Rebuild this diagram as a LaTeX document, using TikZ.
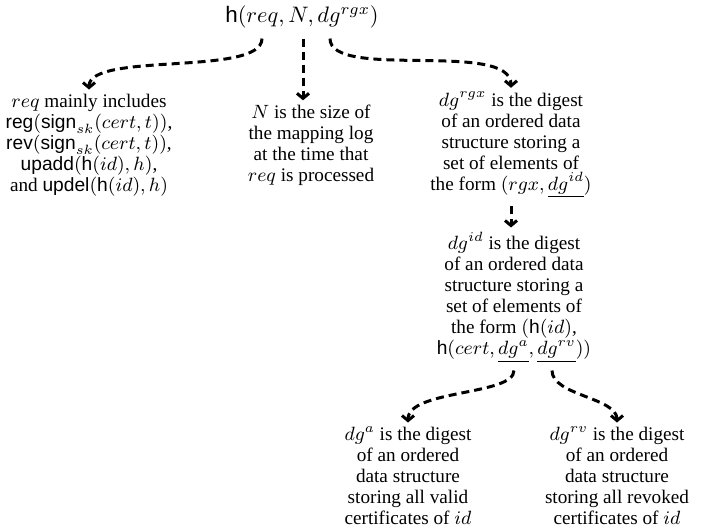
\RequirePackage{fix-cm}
\documentclass[tikz,border=0pt]{standalone}
\usepackage{amsmath}
\usepackage[no-math]{fontspec}
\setmainfont{Liberation Serif}
\setsansfont{Liberation Sans}
\usetikzlibrary{arrows.meta,calc}
\newcommand{\sfm}[1]{\text{\sffamily #1}}
\begin{document}
\begin{tikzpicture}[x=0.5pt,y=-0.5pt,
  txt/.style={align=center, font=\fontsize{9.6}{10.5}\selectfont, inner sep=2pt},
  toptxt/.style={font=\fontsize{11.2}{13}\selectfont, inner sep=2pt},
  ptr/.style={line width=1.5pt, dash pattern=on 4pt off 2.5pt, -{Straight Barb[length=2.5pt,width=6pt]}}]
\useasboundingbox (0,0) rectangle (709,529);

\node[toptxt] (top) at (302,17) {$\sfm{h}(req,N,dg^{rgx})$};

\node[txt] (req) at (89,145) {$req$ mainly includes\\ $\sfm{reg}(\sfm{sign}_{sk}(cert,t))$,\\ $\sfm{rev}(\sfm{sign}_{sk}(cert,t))$,\\ $\sfm{upadd}(\sfm{h}(id),h)$,\\ and $\sfm{updel}(\sfm{h}(id),h)$};

\node[txt] (N) at (311,145) {$N$ is the size of\\ the mapping log\\ at the time that\\ $req$ is processed};

\node[txt] (rgx) at (511,145) {$dg^{rgx}$ is the digest\\ of an ordered data\\ structure storing a\\ set of elements of\\ the form $(rgx,\underline{dg^{id}})$};

\node[txt] (id) at (514,297) {$dg^{id}$ is the digest\\ of an ordered data\\ structure storing a\\ set of elements of\\ the form $(\sfm{h}(id)$,\\ $\sfm{h}(cert,\underline{dg^{a}},\underline{dg^{rv}}))$};

\node[txt] (a) at (408,476) {$dg^{a}$ is the digest\\ of an ordered\\ data structure\\ storing all valid\\ certificates of $id$};

\node[txt] (rv) at (617,476) {$dg^{rv}$ is the digest\\ of an ordered\\ data structure\\ storing all revoked\\ certificates of $id$};

\coordinate (s1) at ($(top.south)+(-40,6)$);
\coordinate (s2) at ($(top.south)+(1,6)$);
\coordinate (s3) at ($(top.south)+(28,6)$);
\coordinate (s5) at ($(id.south)+(0,4)$);
\coordinate (s6) at ($(id.south)+(38,4)$);

\draw[ptr] (s1) .. controls +(0,38) and +(0,-38) .. (req.north);
\draw[ptr] (s2) -- (s2 |- N.north);
\draw[ptr] (s3) .. controls +(0,42) and +(0,-48) .. (rgx.north);
\draw[ptr] ($(rgx.south)+(0,4)$) -- (rgx.south |- id.north);
\draw[ptr] (s5) .. controls +(0,25) and +(0,-33) .. (a.north);
\draw[ptr] (s6) .. controls +(0,25) and +(0,-25) .. (rv.north);
\end{tikzpicture}
\end{document}
